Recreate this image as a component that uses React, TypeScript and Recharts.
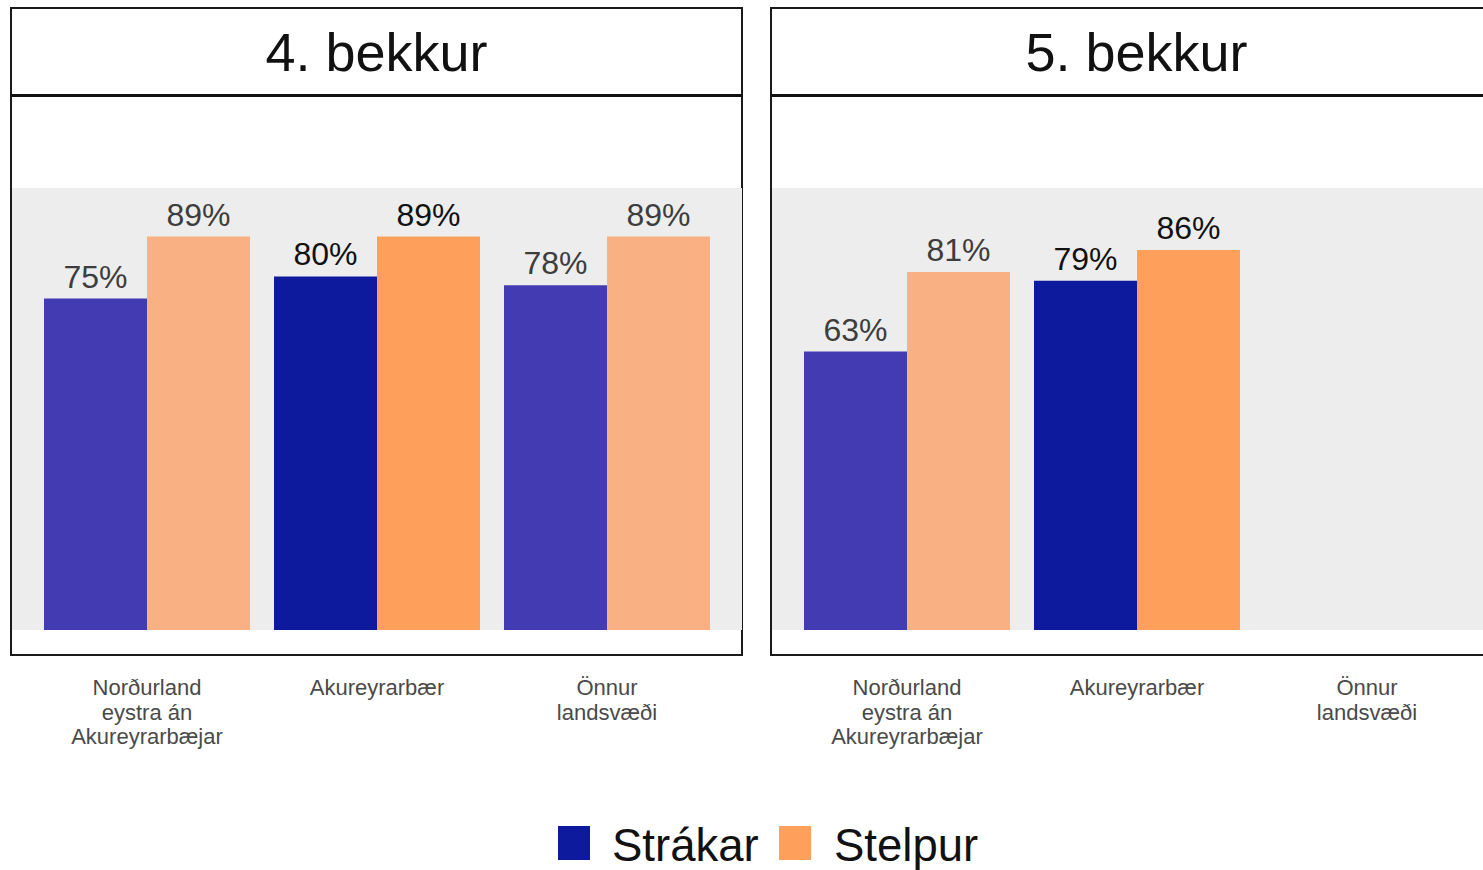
import React from 'react';
import { BarChart, Bar, XAxis, YAxis, CartesianGrid, Cell, LabelList } from 'recharts';

const categories = ['Norðurland eystra án Akureyrarbæjar', 'Akureyrarbær', 'Önnur landsvæði'];
const categoryLines = [['Norðurland', 'eystra án', 'Akureyrarbæjar'], ['Akureyrarbær'], ['Önnur', 'landsvæði']];
const grades = ['4. bekkur', '5. bekkur'];
const strakar = [
  [75, 80, 78],
  [63, 79, null],
];
const stelpur = [
  [89, 89, 89],
  [81, 86, null],
];

const FONT = '"Liberation Sans", Arial, Helvetica, sans-serif';
// Akureyrarbær is drawn in full colour, the other regions lighter
const boyColors = ['#433bb1', '#0e1a9d', '#433bb1'];
const girlColors = ['#f9b082', '#fe9f5b', '#f9b082'];
const labelColors = ['#3d3d3d', '#111111', '#3d3d3d'];

const PANEL_W = 733;
const PANEL_STEP = 760;

const Tick = ({ x, y, payload }: any) => {
  const idx = categories.indexOf(payload.value);
  const lines = categoryLines[idx] || [payload.value];
  return (
    <text x={x} y={y + 65} textAnchor="middle" fill="#4a4a4a" fontSize={22} fontFamily={FONT}>
      {lines.map((l, i) => (
        <tspan key={i} x={x} dy={i === 0 ? 0 : 24.5}>{l}</tspan>
      ))}
    </text>
  );
};

const makeLabel = () => (props: any) => {
  const { x, y, width, value, index } = props;
  if (value == null) return null;
  return (
    <text x={x + width / 2} y={y - 11} textAnchor="middle" fill={labelColors[index]} fontSize={32} fontFamily={FONT}>
      {value}%
    </text>
  );
};

function Panel({ g }: { g: number }) {
  const left = 10 + PANEL_STEP * g;
  const data = categories.map((c, i) => ({ name: c, strakar: strakar[g][i], stelpur: stelpur[g][i] }));
  return (
    <>
      <div style={{ position: 'absolute', left, top: 7, width: PANEL_W, height: 649, border: '2px solid #1a1a1a', boxSizing: 'border-box' }} />
      <div style={{ position: 'absolute', left, top: 94, width: PANEL_W, height: 3, background: '#111' }} />
      <div style={{ position: 'absolute', left, top: 9, width: PANEL_W, height: 86, display: 'flex', alignItems: 'center', justifyContent: 'center', fontFamily: FONT, fontSize: 54, color: '#111' }}>
        {grades[g]}
      </div>
      <div style={{ position: 'absolute', left: left + 2, top: 188 }}>
        <BarChart width={730} height={580} data={data} margin={{ top: 0, right: 0, left: 0, bottom: 0 }} barGap={0} barCategoryGap={12}>
          <CartesianGrid fill="#ededed" stroke="none" horizontal={false} vertical={false} />
          <XAxis dataKey="name" height={138} axisLine={false} tickLine={false} tickSize={0} tickMargin={0} interval={0} padding={{ left: 20, right: 20 }} tick={<Tick />} />
          <YAxis hide domain={[0, 100]} />
          <Bar dataKey="strakar" isAnimationActive={false}>
            {data.map((d, i) => <Cell key={i} fill={boyColors[i]} />)}
            <LabelList dataKey="strakar" content={makeLabel()} />
          </Bar>
          <Bar dataKey="stelpur" isAnimationActive={false}>
            {data.map((d, i) => <Cell key={i} fill={girlColors[i]} />)}
            <LabelList dataKey="stelpur" content={makeLabel()} />
          </Bar>
        </BarChart>
      </div>
    </>
  );
}

export default function App() {
  return (
    <div style={{ position: 'absolute', left: 0, top: 0, width: 1483, height: 870, overflow: 'hidden', background: '#fff' }}>
      <Panel g={0} />
      <Panel g={1} />
      <div style={{ position: 'absolute', left: 558, top: 826, width: 32, height: 34, background: '#0e1a9d' }} />
      <div style={{ position: 'absolute', left: 612, top: 821, fontFamily: FONT, fontSize: 45.5, color: '#111', lineHeight: '50px' }}>Strákar</div>
      <div style={{ position: 'absolute', left: 779, top: 826, width: 32, height: 34, background: '#fe9f5b' }} />
      <div style={{ position: 'absolute', left: 834, top: 821, fontFamily: FONT, fontSize: 45.5, color: '#111', lineHeight: '50px' }}>Stelpur</div>
    </div>
  );
}
